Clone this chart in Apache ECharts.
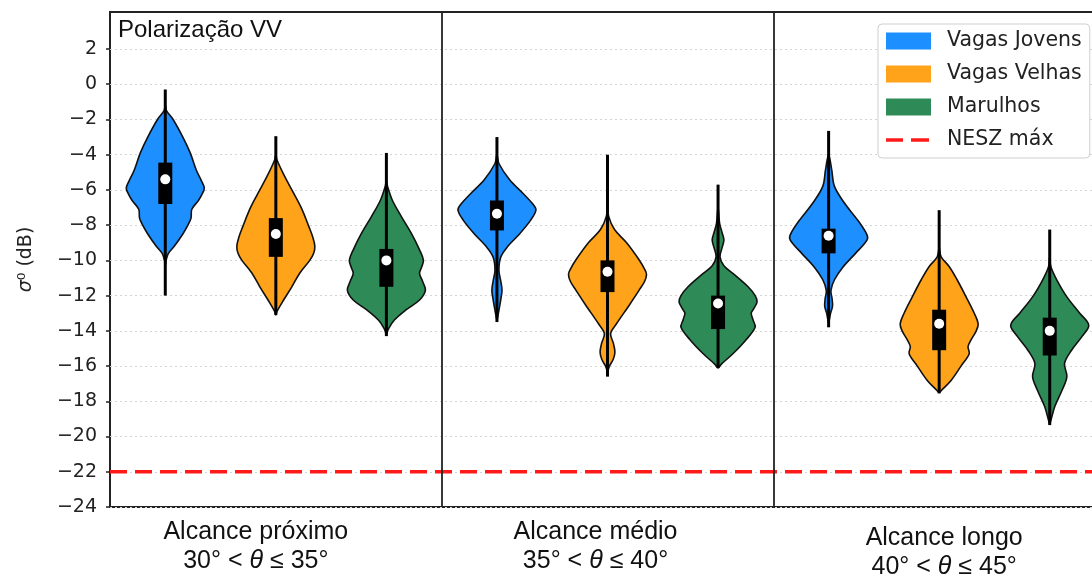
<!DOCTYPE html>
<html>
<head>
<meta charset="utf-8">
<script src="https://cdn.jsdelivr.net/npm/echarts@6/dist/echarts.min.js"></script>
<style>
html, body { margin: 0; padding: 0; background: #fff; }
#main { width: 1092px; height: 576px; }
</style>
</head>
<body>
<div id="main"></div>
<script>
// categories
var groups = ['Alcance próximo', 'Alcance médio', 'Alcance longo'];
var angleLow = ['30°', '35°', '40°'];
var angleHigh = ['35°', '40°', '45°'];
var seriesNames = ['Vagas Jovens', 'Vagas Velhas', 'Marulhos'];
var neszName = 'NESZ máx';
var neszValue = -22;
var yTickValues = [-24, -22, -20, -18, -16, -14, -12, -10, -8, -6, -4, -2, 0, 2];

// box stats, one value per group (dB)
var jovensMax = [-0.3, -3.0, -2.65];
var jovensQ3 = [-4.45, -6.6, -8.2];
var jovensMedian = [-5.4, -7.35, -8.6];
var jovensQ1 = [-6.8, -8.3, -9.6];
var jovensMin = [-12.0, -13.5, -13.8];

var velhasMax = [-2.95, -4.0, -7.15];
var velhasQ3 = [-7.6, -10.0, -12.8];
var velhasMedian = [-8.5, -10.65, -13.6];
var velhasQ1 = [-9.8, -11.8, -15.1];
var velhasMin = [-13.1, -16.6, -17.55];

var marulhosMax = [-3.9, -5.7, -8.25];
var marulhosQ3 = [-9.35, -12.0, -13.25];
var marulhosMedian = [-10.0, -12.45, -14.0];
var marulhosQ1 = [-11.5, -13.9, -15.4];
var marulhosMin = [-14.3, -16.1, -19.35];

// violin outlines: [dB, relative density]
var jovensDensity = [
  [[-1.2,0],[-1.5,0.03],[-2.0,0.2],[-3.0,0.45],[-3.9,0.64],[-4.9,0.8],[-5.5,0.93],[-5.9,1.0],[-6.3,0.93],[-6.6,0.85],[-7.1,0.68],[-7.6,0.66],[-8.0,0.58],[-8.5,0.45],[-9.2,0.23],[-9.6,0.08],[-10.0,0.02],[-10.3,0]],
  [[-4.0,0],[-4.5,0.05],[-5.44,0.33],[-6.2,0.67],[-6.8,0.92],[-7.14,1.0],[-7.7,0.87],[-8.47,0.59],[-9.2,0.28],[-9.8,0.1],[-10.55,0.05],[-11.2,0.1],[-11.7,0.13],[-12.2,0.1],[-12.6,0.07],[-13.2,0.02],[-13.4,0]],
  [[-4.0,0],[-4.87,0.08],[-5.8,0.15],[-6.76,0.41],[-7.7,0.74],[-8.4,0.95],[-8.75,1.0],[-9.1,0.9],[-9.6,0.69],[-10.4,0.36],[-11.1,0.15],[-11.7,0.06],[-12.2,0.09],[-12.6,0.1],[-13.0,0.05],[-13.5,0]]
];
var velhasDensity = [
  [[-4.0,0],[-4.3,0.03],[-5.25,0.23],[-6.2,0.46],[-7.1,0.67],[-8.1,0.85],[-8.7,0.95],[-9.2,1.0],[-9.6,0.97],[-10.0,0.87],[-10.7,0.62],[-11.5,0.41],[-12.25,0.2],[-12.9,0.03],[-13.1,0]],
  [[-6.8,0],[-7.5,0.03],[-8.25,0.18],[-9.0,0.49],[-9.94,0.8],[-10.5,0.95],[-10.8,1.0],[-11.2,0.95],[-11.66,0.82],[-12.6,0.54],[-13.6,0.23],[-14.15,0.08],[-14.7,0.15],[-15.2,0.19],[-15.6,0.15],[-16.0,0.05],[-16.3,0]],
  [[-9.3,0],[-9.8,0.05],[-10.36,0.26],[-11.1,0.46],[-12.07,0.69],[-13.0,0.9],[-13.6,1.0],[-14.0,0.95],[-14.5,0.82],[-14.9,0.74],[-15.3,0.77],[-16.0,0.56],[-16.8,0.31],[-17.4,0.05],[-17.5,0]]
];
var marulhosDensity = [
  [[-5.5,0],[-5.8,0.03],[-6.57,0.15],[-7.5,0.38],[-8.47,0.64],[-9.4,0.85],[-10.0,0.95],[-10.4,0.9],[-10.74,0.85],[-11.2,0.93],[-11.7,1.0],[-12.25,0.85],[-12.8,0.51],[-13.4,0.2],[-13.9,0.05],[-14.2,0]],
  [[-7.0,0],[-7.9,0.04],[-8.4,0.1],[-8.85,0.15],[-9.3,0.1],[-9.8,0.05],[-10.3,0.15],[-10.74,0.38],[-11.5,0.77],[-12.0,0.95],[-12.35,1.0],[-12.8,0.9],[-13.0,0.85],[-13.4,0.9],[-13.8,0.95],[-14.5,0.72],[-15.3,0.38],[-15.9,0.08],[-16.1,0]],
  [[-9.8,0],[-10.36,0.03],[-11.1,0.18],[-12.07,0.44],[-13.0,0.77],[-13.68,1.0],[-14.34,0.82],[-15.1,0.56],[-15.85,0.38],[-16.6,0.44],[-17.4,0.31],[-18.3,0.13],[-19.07,0.03],[-19.3,0]]
];

var stats = [
  { max: jovensMax, q3: jovensQ3, med: jovensMedian, q1: jovensQ1, min: jovensMin, dens: jovensDensity },
  { max: velhasMax, q3: velhasQ3, med: velhasMedian, q1: velhasQ1, min: velhasMin, dens: velhasDensity },
  { max: marulhosMax, q3: marulhosQ3, med: marulhosMedian, q1: marulhosQ1, min: marulhosMin, dens: marulhosDensity }
];

var colors = ['#1e8fff', '#ffa31a', '#2e8b57'];
var neszColor = '#ff1a1a';
var slots = [1 / 6, 1 / 2, 5 / 6];   // violin place inside each group band
var halfWidth = 0.1176;              // widest half of a violin, in group units

// two short dashes for the legend key (corner dots keep the box 45x17)
var dashIcon = 'path://M0,0h0.2v0.2h-0.2z M45,17h-0.2v-0.2h0.2z M0,6.7h17v3.6h-17z M25,6.7h18v3.6h-18z';

function minus(v) {
  return String(v).replace('-', '\u2212');
}

function violinRenderer(k) {
  var s = stats[k];
  return function (params, api) {
    var x = api.value(0);
    var g = api.value(1);
    var cx = api.coord([x, 0])[0];
    var half = api.size([halfWidth, 0])[0];
    var prof = s.dens[g];
    var right = prof.map(function (p) {
      return [cx + p[1] * half, api.coord([x, p[0]])[1]];
    });
    var left = prof.slice(1, -1).reverse().map(function (p) {
      return [cx - p[1] * half, api.coord([x, p[0]])[1]];
    });
    var yTop = api.coord([x, s.max[g]])[1];
    var yBot = api.coord([x, s.min[g]])[1];
    var yQ3 = api.coord([x, s.q3[g]])[1];
    var yQ1 = api.coord([x, s.q1[g]])[1];
    var yMed = api.coord([x, s.med[g]])[1];
    return {
      type: 'group',
      children: [
        { type: 'polygon', shape: { points: right.concat(left), smooth: 0.35 },
          style: { fill: colors[k], stroke: '#111', lineWidth: 1.6 } },
        { type: 'line', shape: { x1: cx, y1: yTop, x2: cx, y2: yBot },
          style: { stroke: '#000', lineWidth: 3 } },
        { type: 'rect', shape: { x: cx - 7, y: yQ3, width: 14, height: yQ1 - yQ3 },
          style: { fill: '#000' } },
        { type: 'circle', shape: { cx: cx, cy: yMed, r: 5 },
          style: { fill: '#fff' } }
      ]
    };
  };
}

var series = seriesNames.map(function (name, k) {
  return {
    name: name,
    type: 'custom',
    itemStyle: { color: colors[k] },
    renderItem: violinRenderer(k),
    data: groups.map(function (gName, g) { return [g + slots[k], g]; }),
    z: 2
  };
});

series.push({
  name: '',
  type: 'line',
  data: [],
  silent: true,
  markLine: {
    symbol: 'none',
    silent: true,
    label: { show: false },
    lineStyle: { color: '#222', width: 1.8, type: 'solid' },
    data: [{ xAxis: 1 }, { xAxis: 2 }]
  },
  z: 1
});

series.push({
  name: neszName,
  type: 'line',
  symbol: 'none',
  silent: true,
  data: [[0, neszValue], [groups.length, neszValue]],
  lineStyle: { color: neszColor, width: 3.5, type: [17, 8] },
  itemStyle: { color: neszColor },
  z: 4
});

var chart = echarts.init(document.getElementById('main'));

var option = {
  animation: false,
  backgroundColor: '#fff',
  grid: {
    left: 110, top: 12, bottom: 69, width: 995,
    outerBoundsMode: 'none',
    containLabel: false,
    show: true, borderColor: '#222', borderWidth: 2, backgroundColor: 'transparent'
  },
  legend: {
    orient: 'vertical',
    left: 878, top: 24,
    padding: [5, 8, 6, 8],
    backgroundColor: '#fff',
    borderColor: '#cfcfcf',
    borderWidth: 1,
    borderRadius: 4,
    itemWidth: 45,
    itemHeight: 17,
    itemGap: 9,
    textStyle: { fontFamily: 'DejaVu Sans', fontSize: 20.5, lineHeight: 24, color: '#222', padding: [0, 0, 0, 11] },
    data: [
      { name: seriesNames[0], icon: 'rect' },
      { name: seriesNames[1], icon: 'rect' },
      { name: seriesNames[2], icon: 'rect' },
      { name: neszName, icon: dashIcon, itemStyle: { color: neszColor } }
    ]
  },
  xAxis: {
    type: 'value',
    min: 0, max: groups.length,
    axisLine: { show: false },
    axisTick: { show: false },
    axisLabel: { show: false },
    splitLine: { show: false }
  },
  yAxis: {
    type: 'value',
    min: -24, max: 4.1, interval: 2,
    name: '{s|σ}{n|\u2070 (dB)}',
    nameLocation: 'middle',
    nameGap: 74,
    nameRotate: 90,
    nameTextStyle: {
      rich: {
        s: { fontFamily: 'DejaVu Sans', fontStyle: 'italic', fontSize: 19, color: '#222' },
        n: { fontFamily: 'DejaVu Sans', fontSize: 19, color: '#222' }
      }
    },
    axisLine: { show: false },
    axisTick: { show: true, length: 4, customValues: yTickValues, lineStyle: { color: '#222', width: 1.5 } },
    axisLabel: {
      margin: 13,
      fontFamily: 'DejaVu Sans',
      fontSize: 19,
      color: '#222',
      customValues: yTickValues,
      formatter: function (v) { return minus(v); }
    },
    splitLine: { show: true, lineStyle: { color: '#d4d4d4', type: [2, 3], width: 1 } }
  },
  series: series
};

chart.setOption(option);

// text under each group and the panel title
var labelShiftX = [-20, -12, 5];
var labelShiftY = [0, 0, 6];
var graphics = [{
  type: 'text',
  left: 118, top: 18,
  style: { text: 'Polarização VV', font: '24px "Liberation Sans"', fill: '#111' }
}];
groups.forEach(function (name, g) {
  var p = chart.convertToPixel({ gridIndex: 0 }, [g + 0.5, -24]);
  var cx = p[0] + labelShiftX[g];
  var by = p[1] + labelShiftY[g];
  graphics.push({
    type: 'text', x: cx, y: by + 25,
    style: { text: name, font: '25px "Liberation Sans"', fill: '#111', align: 'center', verticalAlign: 'middle' }
  });
  graphics.push({
    type: 'text', x: cx, y: by + 54,
    style: {
      text: '{a|' + angleLow[g] + ' < }{t|θ}{a| ≤ ' + angleHigh[g] + '}',
      align: 'center', verticalAlign: 'middle',
      rich: {
        a: { fontFamily: 'Liberation Sans', fontSize: 25, fill: '#111' },
        t: { fontFamily: 'Liberation Sans', fontStyle: 'italic', fontSize: 25, fill: '#111' }
      }
    }
  });
});
chart.setOption({ graphic: graphics });
</script>
</body>
</html>
